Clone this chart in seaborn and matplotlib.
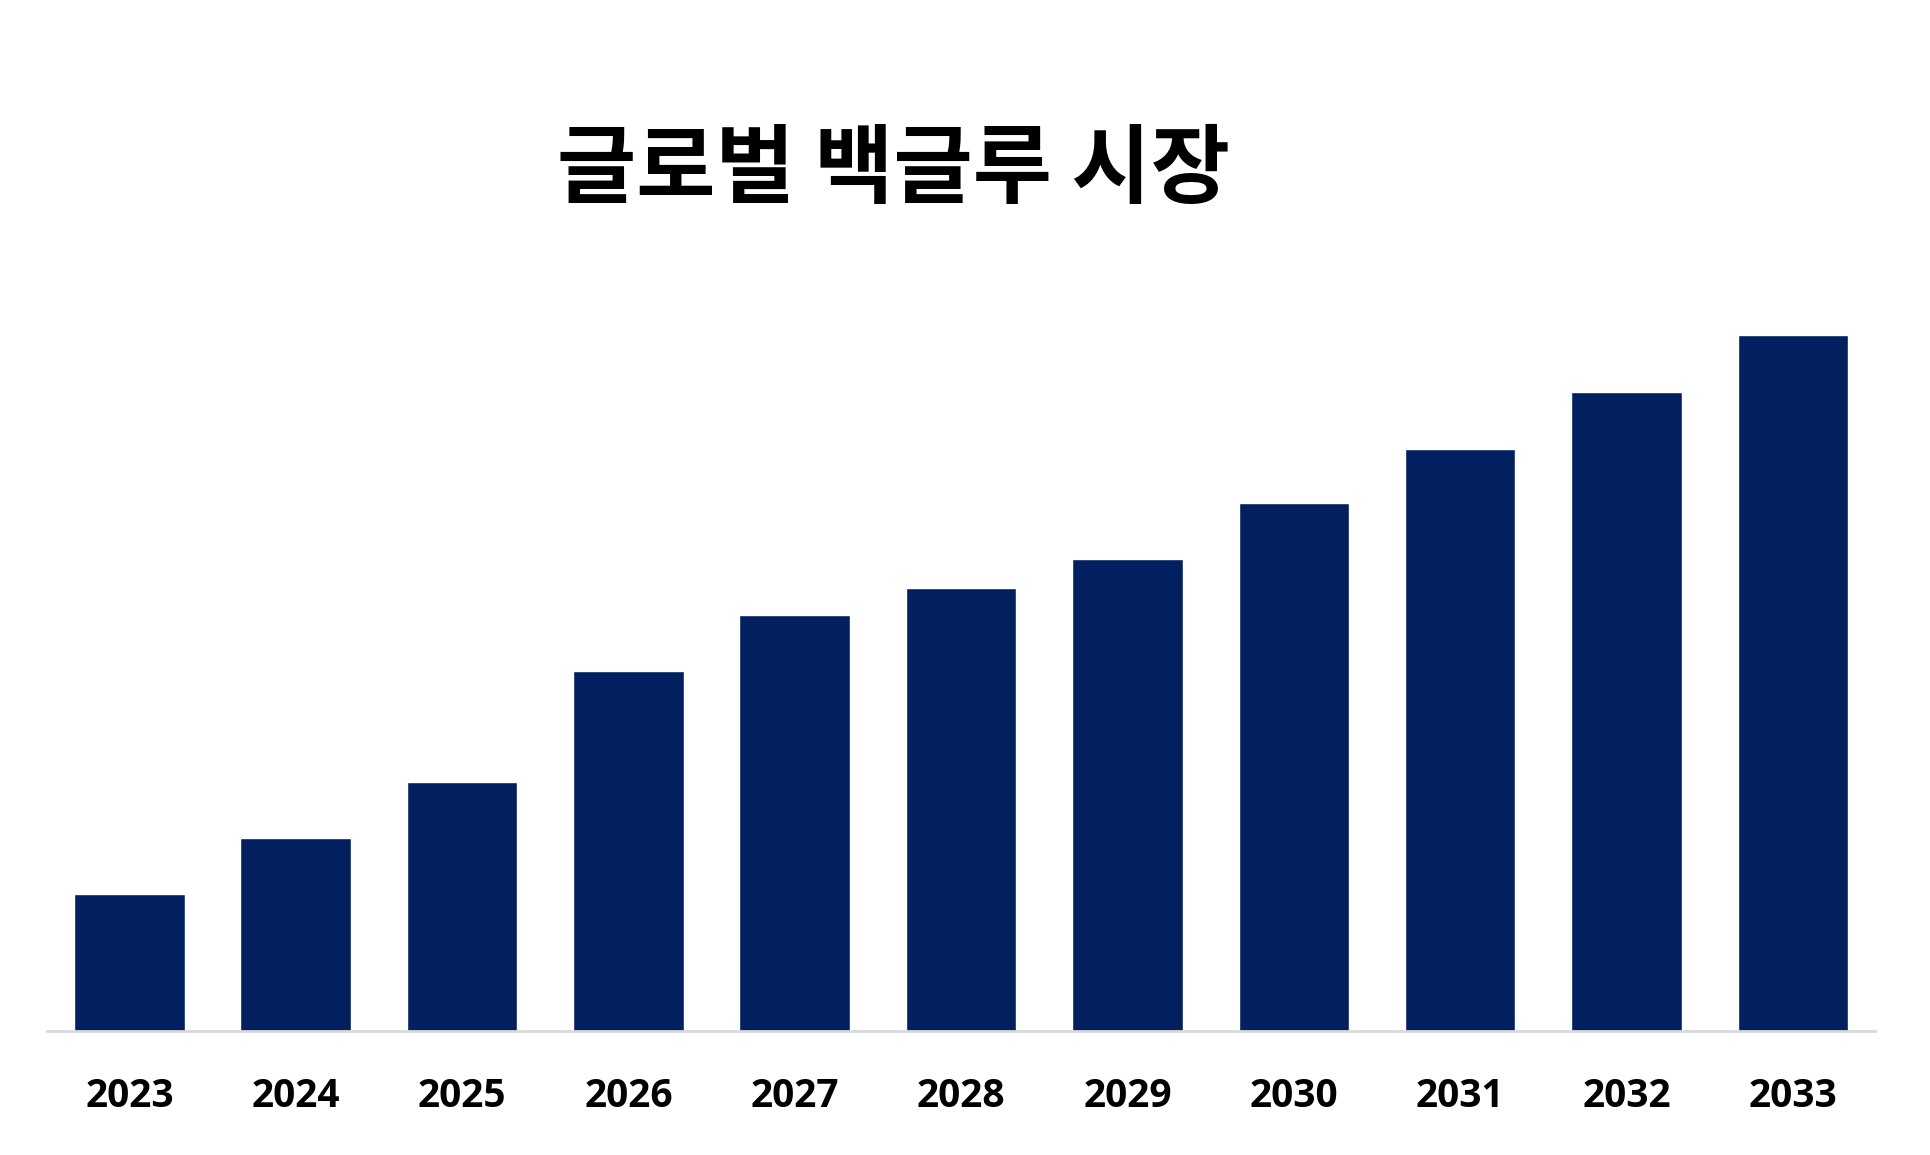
import matplotlib
matplotlib.use("Agg")
import matplotlib.pyplot as plt
import seaborn as sns
import pandas as pd

# values (relative bar heights, no y axis shown)
years = ['2023', '2024', '2025', '2026', '2027', '2028', '2029', '2030', '2031', '2032', '2033']
market = [111, 157, 202, 292, 338, 360, 383, 429, 473, 519, 565]

title = '글로벌 백글루 시장'
bar_color = '#02205F'

df = pd.DataFrame({'year': years, 'market': market})

sns.set_theme(style='white')
plt.rcParams['font.family'] = ['Noto Sans CJK KR', 'DejaVu Sans']

fig = plt.figure(figsize=(19.3, 11.55), dpi=100)
ax = fig.add_axes([0.0244, 0.1074, 0.9472, 0.680])

sns.barplot(data=df, x='year', y='market', color=bar_color, saturation=1,
            width=0.665, ax=ax)

ax.set_xlim(-0.495, len(years) - 0.505)
ax.set_ylim(0, 638)
ax.set_xlabel('')
ax.set_ylabel('')
ax.set_yticks([])
for side in ['top', 'right', 'left']:
    ax.spines[side].set_visible(False)
ax.spines['bottom'].set_color('#D9D9D9')
ax.spines['bottom'].set_linewidth(2)
ax.tick_params(axis='x', length=0, pad=33)
for lbl in ax.get_xticklabels():
    lbl.set_fontfamily(['Open Sans', 'DejaVu Sans'])
    lbl.set_fontweight('bold')
    lbl.set_fontsize(28)
    lbl.set_color('black')

fig.text(0.463, 0.852, title, ha='center', va='center', fontsize=62,
         fontweight='bold', color='black')

fig.savefig('out.png', dpi=100, facecolor='white')
